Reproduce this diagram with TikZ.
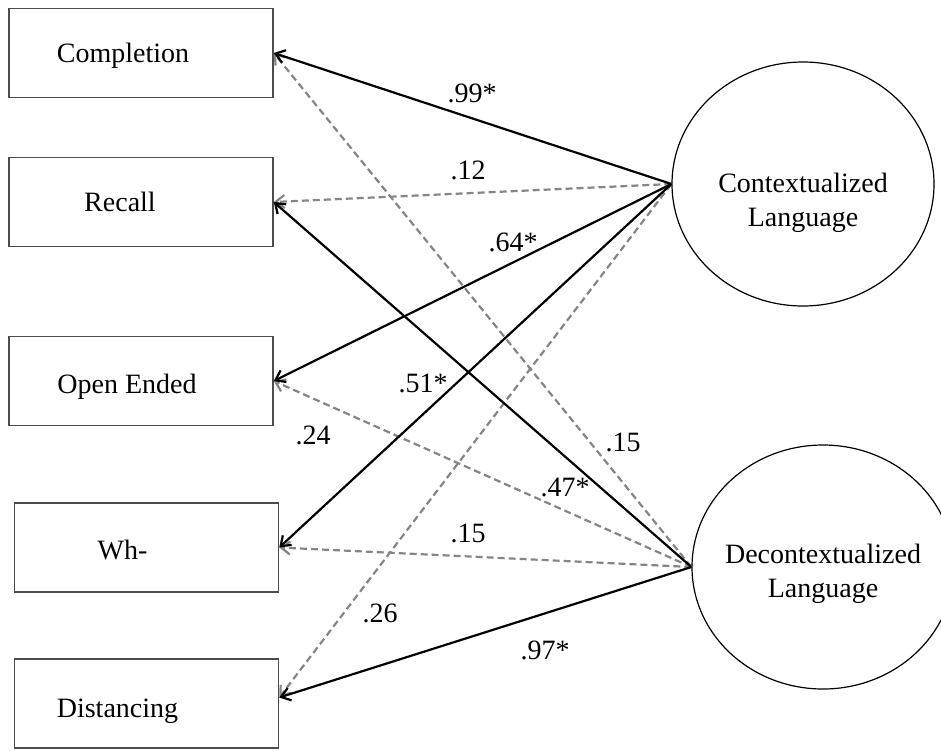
\documentclass[tikz,border=0pt]{standalone}
\usepackage{fontspec}
\setmainfont{Liberation Serif}
\usetikzlibrary{arrows.meta,shapes.geometric}

\begin{document}
\begin{tikzpicture}[
    x=0.5pt,y=-0.5pt,
    font=\fontsize{14}{17}\selectfont,
    box/.style={draw=black!70,line width=0.75pt,minimum width=132pt,
                minimum height=44.5pt,inner sep=0pt},
    latent/.style={draw,ellipse,line width=0.6pt,minimum width=131pt,
                   minimum height=122pt,inner sep=0pt},
    sig/.style={line width=1.1pt,-{Straight Barb[length=4.5pt,width=6.5pt]}},
    ns/.style={draw=black!48,line width=1.1pt,dash pattern=on 3.5pt off 2pt,
               -{Straight Barb[length=4.5pt,width=6.5pt]}},
    coef/.style={inner sep=1pt},
  ]
    \useasboundingbox (0,0) rectangle (941,750);
    % observed indicators
    \node[box,label={[xshift=-9pt,yshift=-1.5pt]center:Completion}] (comp) at (141,53) {};
    \node[box,label={[xshift=-10.5pt]center:Recall}] (recall) at (141,202) {};
    \node[box,label={[xshift=-7pt,yshift=-3pt]center:Open Ended}] (open) at (141,381) {};
    \node[box,label={[xshift=-12pt,yshift=-1pt]center:Wh-}] (wh) at (146.5,547.5) {};
    \node[box,label={[xshift=-14.5pt,yshift=-4pt]center:Distancing}] (dist) at (146.5,703.5) {};
    % latent factors
    \node[latent,label={[align=center,yshift=-9.5pt]center:Contextualized\\Language}]
      (ctx) at (803,184) {};
    \node[latent,label={[align=center,yshift=-3.5pt]center:Decontextualized\\Language}]
      (dec) at (823,567) {};
    % loadings
    \draw[ns] (ctx.west) -- (recall.east);
    \draw[ns] (ctx.west) -- ([yshift=3pt]dist.east);
    \draw[ns] (dec.west) -- (comp.east);
    \draw[ns] (dec.west) -- (open.east);
    \draw[ns] (dec.west) -- (wh.east);
    \draw[sig] (ctx.west) -- (comp.east);
    \draw[sig] (ctx.west) -- (open.east);
    \draw[sig] (ctx.west) -- (wh.east);
    \draw[sig] (dec.west) -- (recall.east);
    \draw[sig] (dec.west) -- ([yshift=3pt]dist.east);
    % coefficients
    \node[coef] (c1) at (472,93) {.99*};
    \node[coef] (c2) at (468,170) {.12};
    \node[coef] (c3) at (513,242) {.64*};
    \node[coef] (c4) at (423,383) {.51*};
    \node[coef] (c5) at (313,435) {.24};
    \node[coef] (c6) at (623,442) {.15};
    \node[coef] (c7) at (565,487) {.47*};
    \node[coef] (c8) at (468,533) {.15};
    \node[coef] (c9) at (380,613) {.26};
    \node[coef] (c10) at (545,650) {.97*};
  \end{tikzpicture}
\end{document}
